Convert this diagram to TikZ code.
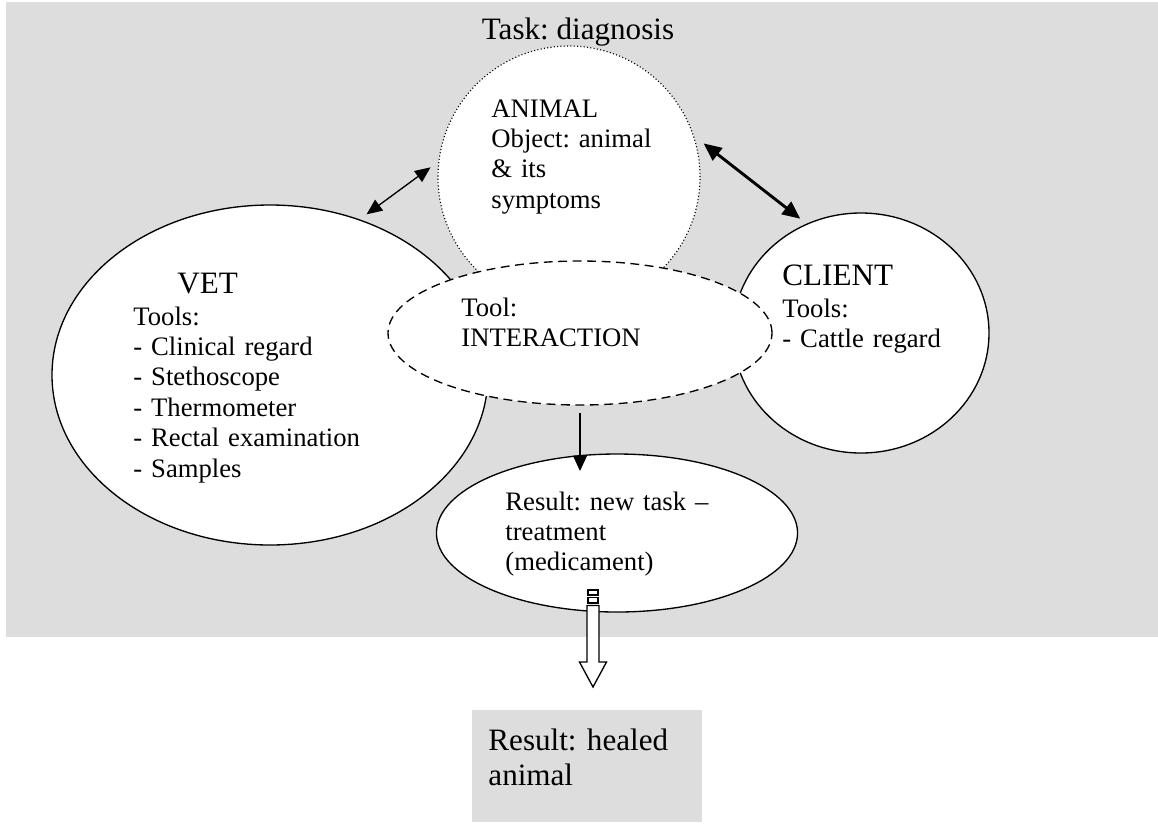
\documentclass[tikz,border=0pt]{standalone}
\usepackage{fontspec}
\setmainfont{Liberation Serif}
\usetikzlibrary{arrows.meta,shapes.geometric,calc}
\definecolor{bggray}{RGB}{221,221,221}
\frenchspacing

\begin{document}
\begin{tikzpicture}[x=0.45pt,y=-0.45pt,font=\fontsize{12}{13.7}\selectfont,
  blob/.style={ellipse,draw=black,line width=0.6pt,fill=white,inner sep=0pt,outer sep=3.5pt},
  txt/.style={anchor=base west,align=left,inner sep=0pt,text width=#1},
  txt/.default=110pt,
  big/.style={font=\fontsize{14}{16.1}\selectfont}]
\useasboundingbox (0,0) rectangle (1158,827);
\fill[bggray] (6,2) rectangle (1158,637);

% activity system
\node[blob,minimum width=196.2pt,minimum height=153pt] (vet) at (270,375) {};
\node[blob,minimum width=115.2pt,minimum height=108pt] (client) at (861,333) {};
\node[blob,circle,line width=0.5pt,densely dotted,minimum size=117.9pt] (animal) at (569,177) {};
\node[blob,minimum width=162.5pt,minimum height=71.1pt] (res) at (617,533) {};
\node[blob,dash pattern=on 4pt off 2.5pt,minimum width=172.8pt,minimum height=64.8pt] (inter) at (580,333) {};
\node[fill=bggray,inner sep=0pt,minimum width=103.5pt,minimum height=50.4pt] (heal) at (587,766) {};

\node[big,anchor=base,inner sep=0pt] (task) at (578,39) {Task: diagnosis};
\node[big,anchor=base west,inner sep=0pt] (vettitle) at (177,293) {VET};
\node[txt] (vettools) at (133,325) {Tools:\\- Clinical regard\\- Stethoscope\\- Thermometer\\- Rectal examination\\- Samples};
\node[txt=80pt] (animaltxt) at (491,117) {ANIMAL\\Object: animal\\\& its\\symptoms};
\node[txt=90pt] (intertxt) at (461,316) {Tool:\\INTERACTION};
\node[big,anchor=base west,inner sep=0pt] (clienttitle) at (782,285) {CLIENT};
\node[txt=80pt] (clienttools) at (782,317) {Tools:\\- Cattle regard};
\node[txt=100pt] (restxt) at (505,510) {Result: new task --\\treatment\\(medicament)};
\node[txt=90pt,big] (healtxt) at (488,750) {Result: healed\\animal};

% links
\draw[{Triangle[length=7pt,width=6pt]}-{Triangle[length=7pt,width=6pt]},line width=0.6pt] (vet.59) -- (animal.176);
\draw[{Triangle[length=8pt,width=7pt]}-{Triangle[length=8pt,width=7pt]},line width=1.3pt] (animal.14) -- (client.118);
\draw[-{Triangle[length=7pt,width=6pt]},line width=1.3pt] (inter.south) -- ($(inter.south |- res.north)+(0,25)$);

% striped outcome arrow
\coordinate (stripe) at (593,590);
\draw[fill=white,line width=0.6pt] (588,590) rectangle (598,595) (588,597.5) rectangle (598,603);
\draw[fill=white,line width=0.6pt] (587,605.5) -- (599,605.5) -- (599,662) -- (606.5,662) -- (stripe |- 0,687) -- (579.5,662) -- (587,662) -- cycle;
\end{tikzpicture}
\end{document}
